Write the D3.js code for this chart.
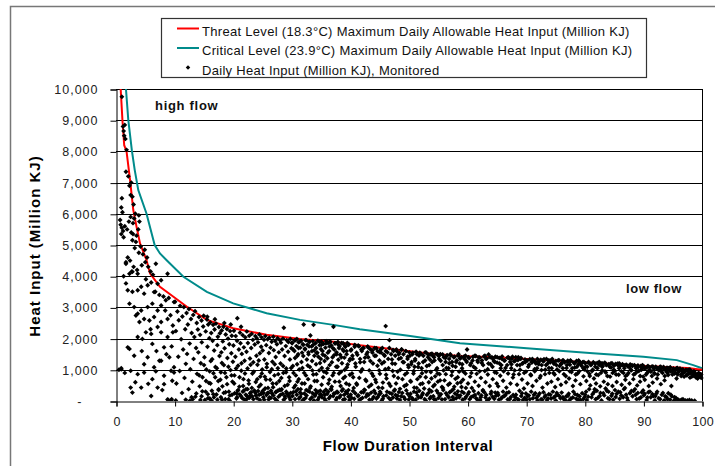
<!DOCTYPE html>
<html>
<head>
<meta charset="utf-8">
<script src="https://cdn.jsdelivr.net/npm/d3@7"></script>
<style>
  body { margin: 0; background: #fff; }
  text { font-family: Arial, "Liberation Sans", sans-serif; }
</style>
</head>
<body>
<div id="canvas"></div>
<script>
// axis ticks
var xTicks = [0, 10, 20, 30, 40, 50, 60, 70, 80, 90, 100];
var yTicks = [0, 1000, 2000, 3000, 4000, 5000, 6000, 7000, 8000, 9000, 10000];

var legendLabels = [
  "Threat Level (18.3°C) Maximum Daily Allowable Heat Input (Million KJ)",
  "Critical Level (23.9°C) Maximum Daily Allowable Heat Input (Million KJ)",
  "Daily Heat Input (Million KJ), Monitored"
];

// threat level curve (18.3°C)
var threatX = [0.8, 1.1, 1.4, 1.8, 2.4, 2.95, 3.5, 4.1, 5.2, 5.8, 7.5, 9.8, 12.1, 15.5, 20, 25.7, 31.4, 37.1, 41.6, 47.3, 53, 58.7, 64.4, 70.1, 75.8, 81.4, 87.1, 92.8, 97.5, 100];
var threatY = [10000, 9000, 8200, 8000, 7080, 6120, 5590, 5050, 4520, 4090, 3660, 3340, 3020, 2600, 2330, 2120, 1990, 1900, 1790, 1660, 1530, 1440, 1400, 1350, 1290, 1230, 1150, 1100, 1060, 1000];

// critical level curve (23.9°C)
var criticalX = [1.7, 2.1, 2.7, 3.2, 3.8, 5.2, 6.6, 7.5, 8.6, 11.5, 15.5, 20, 25.7, 31.4, 37.1, 41.6, 50.2, 58.7, 70.1, 81.4, 90, 95.7, 98.5, 100];
var criticalY = [10000, 9000, 8040, 7400, 6760, 6010, 5000, 4730, 4520, 3980, 3500, 3130, 2810, 2600, 2440, 2300, 2080, 1850, 1690, 1530, 1420, 1310, 1150, 1050];

// monitored daily heat input [flow interval, heat input] - high flows
var monitoredHigh = [
[1.0,9750],[1.2,8800],[1.3,8650],[1.4,8500],[1.5,8850],[1.6,8400],[1.8,8050],[1.7,7350],[2.1,7200],[2.3,6900],[2.5,6600],[1.0,6500],[0.9,6200],[1.1,6050],[0.7,5800],[0.8,5650],[1.0,5550],[1.2,5450],[0.9,5350],[1.3,5250],[1.5,5600],[1.9,5500],[2.2,5750],[2.5,5900],[2.6,5400],[2.9,5700],[3.1,5850],[2.8,5150],[3.4,5100],[3.2,4900],[2.0,4600],[2.4,4500],[1.7,4400],[3.0,4300],[3.6,4200],[2.7,4150],[1.3,4000],[0.5,1000],[0.9,1050],[1.5,900],
[1.7,4450],[2.3,4080],[2.8,4140],[3.7,4080],[1.7,3770],[2.0,3550],[2.8,3500],[3.7,3550],[4.3,3660],[4.8,3440],[5.4,3710],[7.1,3760],[7.7,3870],[8.8,4080],[6.5,3490],[2.3,3120],[3.1,3010],[3.7,2800],[4.3,2900],[5.4,3010],[6.2,3120],[7.1,2900],[7.7,3060],[8.5,3230],[9.9,3170],[3.4,2740],[4.0,2530],[4.8,2630],[5.7,2580],[6.5,2690],[7.7,2530],[8.8,2630],[9.7,2420],[7.1,2370],[3.7,2050],[4.5,1990],[6.0,2150],[7.7,2200],[8.8,2050],[9.7,2200],[6.2,1830],[8.2,1720],[2.0,1720],[2.3,1670],[5.4,1400],[7.4,1290],[4.8,1180],[6.5,1080],[7.7,1290],[9.1,1400],[9.9,1080],[0.9,1020],[2.5,970],[3.7,860],[4.8,910],[6.2,700],[8.2,810],[9.4,970],[9.9,910],[2.5,430],[2.8,270],[4.3,430],[6.0,160],[7.1,430],[8.2,540],[8.8,50],[9.4,20],
[4.2,4950],[4.6,4700],[5.0,4450],[5.5,4300],[5.9,4150],[6.3,4050],[4.9,4850],[5.3,4600],[3.9,4750],[4.4,4350],[6.8,4400],[3.5,5300],[3.8,5500],[4.0,5750],[3.3,6000],[3.0,6300],[2.8,6550],[2.6,7000],[3.9,5950],[2.9,5350],
[5.1,3900],[6.0,3800],[6.7,3500],[7.4,3400],[8.1,3350],[9.0,3300],[8.4,2900],[9.3,2750],[5.9,2300],[5.1,2200],[4.4,1600],[3.1,1450],[6.9,1600],[8.6,1500],[9.5,1750],[3.3,600],[5.5,550],[6.8,950],[7.9,350],[9.6,650]
];

// flow interval 10-40
var monitoredMid = [
[10.07,3180],[10.22,2240],[10.31,560],[10.48,2870],[10.63,1420],[10.71,2590],[10.86,960],[10.94,3050],[11.12,1980],[11.27,260],[11.33,2710],[11.46,1650],[11.58,3010],[11.69,740],[11.81,2300],[11.92,1190],
[12.04,2820],[12.13,1510],[12.26,2450],[12.39,380],[12.44,2950],[12.57,1840],[12.68,1020],[12.79,2630],[12.91,2180],[13.02,620],[13.18,2760],[13.24,1350],[13.37,2050],[13.49,2880],[13.55,140],[13.66,1700],[13.78,2500],[13.83,870],[13.97,2290],
[14.05,1560],[14.16,2690],[14.28,470],[14.35,2120],[14.47,1210],[14.59,2580],[14.64,1880],[14.77,760],[14.88,2390],[14.96,2730],[15.09,1400],[15.18,30],[15.31,2230],[15.42,1010],[15.53,2610],[15.61,1740],[15.74,2450],[15.86,580],[15.93,2010],
[16.08,2520],[16.17,1280],[16.25,2180],[16.36,330],[16.49,1930],[16.58,2440],[16.63,890],[16.75,1620],[16.82,2290],[16.97,1090],[17.06,2480],[17.14,210],[17.29,1790],[17.38,2060],[17.45,640],[17.57,2370],[17.66,1440],[17.73,2170],[17.89,920],[17.98,1560],
[18.03,2260],[18.16,470],[18.22,1910],[18.34,2380],[18.41,1150],[18.53,1690],[18.65,60],[18.72,2130],[18.84,760],[18.93,2310],[19.01,1380],[19.12,2000],[19.26,300],[19.33,1820],[19.47,2240],[19.54,990],[19.68,1530],[19.76,2090],[19.87,620],[19.95,1260],
[8.9,30],[9.5,60],[10.2,20],[11.9,40],[12.6,10],[14.4,30],[16.3,20],[18.1,40],[19.4,10],[15.7,90],[17.3,40],[13.1,60],
[20.04,1780],[20.12,2250],[20.21,820],[20.37,1420],[20.43,2080],[20.58,240],[20.66,1930],[20.71,2650],[20.83,1130],[20.97,1650],[21.05,460],[21.16,2190],[21.24,1850],[21.38,970],[21.47,1510],[21.56,90],[21.63,2110],[21.75,700],[21.82,1720],[21.94,1290],
[22.06,2040],[22.18,380],[22.27,1580],[22.33,2230],[22.45,1040],[22.51,1860],[22.68,550],[22.74,2090],[22.86,1360],[22.93,170],[23.07,1700],[23.15,2150],[23.28,880],[23.36,1960],[23.43,1240],[23.59,320],[23.67,1810],[23.78,2080],[23.85,610],[23.96,1450],
[24.02,2010],[24.14,1160],[24.23,1880],[24.39,460],[24.48,2130],[24.55,1530],[24.61,780],[24.77,1740],[24.84,2040],[24.95,1010],
[25.03,1620],[25.17,260],[25.26,1960],[25.32,1330],[25.48,2080],[25.59,690],[25.64,1790],[25.75,1190],[25.88,1980],[25.94,420],[26.09,1540],[26.16,2030],[26.28,930],[26.37,1710],[26.44,100],[26.57,1900],[26.69,1260],[26.73,560],[26.85,2060],[26.92,1630],
[27.04,820],[27.17,1920],[27.25,1410],[27.33,300],[27.46,1820],[27.58,2010],[27.62,1050],[27.79,1560],[27.86,640],[27.97,1950],[28.08,1200],[28.14,1870],[28.27,380],[28.35,1650],[28.49,2000],[28.56,900],[28.64,2350],[28.77,1440],[28.83,150],[28.98,1760],
[29.06,1040],[29.13,1950],[29.29,520],[29.37,1580],[29.42,1890],[29.55,760],[29.68,1330],[29.74,1990],[29.81,260],[29.93,1690],
[30.02,1870],[30.18,1120],[30.24,1650],[30.36,430],[30.47,1940],[30.55,1380],[30.69,820],[30.78,1760],[30.86,1990],[30.97,620],[31.08,1500],[31.16,1880],[31.27,1010],[31.39,270],[31.44,1710],[31.58,1930],[31.65,1250],[31.73,560],[31.89,1820],[31.96,1440],
[32.03,2450],[32.11,900],[32.25,1680],[32.34,1950],[32.46,350],[32.57,1330],[32.63,1800],[32.78,700],[32.84,1560],[32.95,1900],[33.09,1090],[33.17,2100],[33.22,470],[33.38,1750],[33.46,1280],[33.59,1920],[33.66,850],[33.71,2440],[33.83,1620],[33.97,200],
[34.05,1850],[34.14,1180],[34.26,1540],[34.31,640],[34.45,1930],[34.53,1420],[34.67,980],[34.74,1790],[34.86,330],[34.98,1660],
[35.06,1900],[35.12,1060],[35.27,1490],[35.35,760],[35.41,1830],[35.59,1280],[35.63,190],[35.74,1710],[35.88,1920],[35.93,900],[36.07,1370],[36.19,1860],[36.24,560],[36.38,1600],[36.46,1150],[36.52,1900],[36.67,390],[36.75,1780],[36.84,1240],[36.96,820],
[37.03,1690],[37.11,2380],[37.22,1470],[37.36,620],[37.43,1850],[37.58,1100],[37.64,1560],[37.72,300],[37.87,1890],[37.94,1320],[38.06,880],[38.17,1760],[38.25,1480],[38.33,480],[38.49,1860],[38.56,1210],[38.68,1650],[38.79,730],[38.82,1830],[38.97,1390],
[39.04,1000],[39.13,1740],[39.28,560],[39.35,1600],[39.47,1860],[39.53,1170],[39.66,350],[39.72,1810],[39.85,1300],[39.91,840]
];

// extra days filling the lower part of the 12-60 cloud
var monitoredExtra = [
[14.21,820],[14.73,310],[15.02,1150],[15.36,640],[15.67,220],[15.98,950],[16.12,560],[16.41,1340],[16.71,120],[16.93,760],[17.21,1050],[17.52,380],[17.81,680],[18.07,1220],[18.38,260],[18.59,900],[18.96,540],[19.18,1100],[19.42,180],[19.71,820],
[20.16,560],[20.49,1040],[20.77,330],[21.08,760],[21.42,1210],[21.69,480],[22.01,880],[22.39,150],[22.62,660],[22.97,1160],[23.18,420],[23.52,940],[23.81,260],[24.11,700],[24.36,1300],[24.69,520],[24.88,880],[25.11,340],[25.39,780],[25.72,1080],
[26.02,260],[26.31,680],[26.58,1020],[26.81,440],[27.09,1180],[27.38,560],[27.69,860],[27.91,360],[28.21,740],[28.52,1120],[28.79,480],[29.02,920],[29.33,220],[29.62,640],[29.89,1060],
[30.29,900],[30.61,500],[30.91,1180],[31.19,700],[31.52,380],[31.81,1060],[32.19,560],[32.41,820],[32.72,1140],[33.12,420],[33.51,980],[33.88,640],[34.19,860],[34.49,300],[34.81,1220],[35.09,520],[35.49,940],[35.81,360],[36.11,1040],[36.41,680],[36.81,460],[37.16,900],[37.49,260],[37.81,1100],[38.11,620],[38.41,940],[38.71,380],[39.09,780],[39.41,1080],[39.79,520],
[15.58,2700],[16.88,2620],[18.48,2500],[21.34,2380],[19.58,2450],
[40.48,760],[41.11,520],[41.79,940],[42.57,680],[43.17,460],[43.66,880],[44.38,600],[44.91,980],[45.46,420],[46.09,840],[46.58,560],[47.21,960],[47.58,360],[48.14,740],[48.53,1000],[49.21,480],[49.66,900],[50.32,620],[50.81,960],[51.33,420],[51.87,780],[52.31,560],[52.92,940],[53.46,360],[53.83,720],[54.38,520],[54.88,880],[55.31,660],[55.79,420],[56.28,860],[56.96,560],[57.37,940],[57.72,460],[58.31,760],[58.84,600],[59.28,940],[59.71,420],
[14.6,150],[15.3,300],[16.0,80],[16.6,220],[17.5,350],[17.9,120],[18.7,280],[19.2,60],[19.8,200],[13.7,240],[12.9,120]
];

// flow interval 40-100
var monitoredLow = [
[40.08,1620],[40.27,880],[40.39,1350],[40.56,420],[40.73,1740],[40.91,1100],
[41.04,560],[41.19,1480],[41.34,1780],[41.52,740],[41.66,1240],[41.87,1650],
[42.02,1020],[42.18,1700],[42.37,360],[42.49,1390],[42.71,640],[42.93,1560],
[43.06,1710],[43.22,980],[43.41,1280],[43.57,520],[43.76,1620],[43.89,800],
[44.11,1450],[44.26,680],[44.43,1690],[44.62,1130],[44.78,430],[44.96,1570],
[45.03,870],[45.21,1660],[45.38,1200],[45.55,590],[45.72,1480],[45.94,1020],
[46.02,2400],[46.16,720],[46.33,1560],[46.51,1050],[46.67,1950],[46.84,480],
[47.09,1330],[47.27,1640],[47.41,800],[47.63,1190],[47.79,560],[47.92,1600],
[48.05,940],[48.23,1500],[48.46,390],[48.61,1380],[48.72,1650],[48.88,700],
[49.12,1240],[49.31,850],[49.44,1600],[49.58,520],[49.77,1420],[49.93,1080],
[50.06,1560],[50.24,640],[50.39,1180],[50.58,1500],[50.76,880],[50.89,430],
[51.03,1300],[51.21,1580],[51.42,700],[51.56,1090],[51.71,1460],[51.94,540],
[52.08,1510],[52.22,890],[52.41,1250],[52.59,400],[52.77,1560],[52.86,760],
[53.04,1120],[53.29,1480],[53.38,600],[53.57,1330],[53.72,930],[53.91,1520],
[54.13,470],[54.28,1400],[54.46,790],[54.61,1510],[54.79,1050],[54.92,620],
[55.07,1440],[55.23,860],[55.41,1290],[55.62,450],[55.73,1490],[55.89,980],
[56.05,660],[56.21,1380],[56.38,1060],[56.52,1470],[56.69,520],[56.87,1210],
[57.12,1460],[57.26,820],[57.44,1130],[57.59,380],[57.78,1420],[57.93,710],
[58.04,1250],[58.27,570],[58.39,1450],[58.56,940],[58.71,1360],[58.96,450],
[59.08,1180],[59.22,680],[59.41,1430],[59.63,880],[59.77,1290],[59.91,1650],
[60.07,560],[60.26,1380],[60.44,780],[60.58,1210],[60.72,420],[60.93,1420],
[61.02,1100],[61.24,620],[61.39,1440],[61.55,870],[61.68,1300],[61.89,490],
[62.09,1390],[62.27,740],[62.42,1220],[62.61,350],[62.78,1430],[62.94,960],
[63.06,600],[63.25,1360],[63.43,1020],[63.58,1490],[63.77,480],[63.92,1180],
[64.14,1400],[64.29,700],[64.47,1280],[64.63,920],[64.74,1420],[64.97,560],
[65.04,1230],[65.22,470],[65.41,1380],[65.57,810],[65.76,1150],[65.89,1430],
[66.06,650],[66.23,1300],[66.47,1060],[66.62,430],[66.79,1390],[66.91,880],
[67.13,1360],[67.32,560],[67.48,1180],[67.66,1420],[67.73,750],[67.94,1270],
[68.03,980],[68.22,1400],[68.44,520],[68.59,1310],[68.77,860],[68.92,1150],
[69.11,1380],[69.28,690],[69.46,1220],[69.61,400],[69.79,1330],[69.96,940],
[70.04,1290],[70.23,560],[70.47,1160],[70.62,1340],[70.81,820],[70.97,1230],
[71.08,480],[71.26,1310],[71.43,1020],[71.58,1260],[71.74,650],[71.91,1350],
[72.13,1180],[72.32,740],[72.49,1320],[72.61,990],[72.78,430],[72.96,1270],
[73.04,1340],[73.21,860],[73.39,1150],[73.62,560],[73.77,1300],[73.88,1060],
[74.12,1240],[74.29,620],[74.44,1350],[74.66,900],[74.73,1190],[74.94,450],
[75.06,1280],[75.27,1010],[75.42,700],[75.59,1310],[75.71,1120],[75.93,520],
[76.04,1190],[76.21,1300],[76.43,860],[76.57,1240],[76.79,600],[76.88,1060],
[77.09,1290],[77.31,720],[77.46,1160],[77.62,1280],[77.74,930],[77.97,480],
[78.12,1230],[78.28,1070],[78.41,660],[78.59,1280],[78.76,880],[78.93,1180],
[79.06,1260],[79.24,540],[79.43,1130],[79.61,1240],[79.78,790],[79.92,1010],
[80.08,1210],[80.26,640],[80.42,1100],[80.61,1230],[80.79,870],[80.94,500],
[81.07,1180],[81.23,960],[81.45,1240],[81.56,720],[81.79,1100],[81.92,560],
[82.11,1220],[82.29,830],[82.46,1150],[82.63,470],[82.81,1200],[82.97,980],
[83.03,1110],[83.24,620],[83.42,1230],[83.58,910],[83.76,1160],[83.93,540],
[84.09,1180],[84.31,780],[84.47,1070],[84.64,1210],[84.72,480],[84.96,1130],
[85.12,960],[85.27,1190],[85.44,610],[85.62,1150],[85.78,840],[85.91,1200],
[86.04,1120],[86.28,520],[86.43,1180],[86.59,900],[86.77,1140],[86.92,680],
[87.06,1160],[87.25,840],[87.41,1100],[87.63,560],[87.74,1170],[87.95,980],
[88.13,1120],[88.28,700],[88.46,1150],[88.61,880],[88.79,1090],[88.94,500],
[89.07,1140],[89.21,960],[89.43,620],[89.58,1120],[89.74,1050],[89.96,780],
[90.09,1100],[90.24,680],[90.41,1060],[90.63,900],[90.78,1120],[90.92,480],
[91.06,1080],[91.27,940],[91.48,1110],[91.59,590],[91.76,1030],[91.93,870],
[92.11,1100],[92.33,720],[92.47,1060],[92.64,980],[92.82,1090],[92.97,540],
[93.08,1040],[93.26,900],[93.44,1090],[93.61,660],[93.73,1010],[93.95,940],
[94.03,1070],[94.22,830],[94.45,1000],[94.58,1080],[94.77,480],[94.91,960],
[95.12,1040],[95.29,880],[95.43,990],[95.66,720],[95.79,1060],[95.94,920],
[96.07,980],[96.24,1040],[96.48,860],[96.63,950],[96.76,1010],[96.95,780],
[97.04,940],[97.27,1000],[97.39,820],[97.61,960],[97.78,880],[97.92,1010],
[98.06,900],[98.22,780],[98.47,950],[98.58,840],[98.79,890],[98.94,760],
[99.11,840],[99.26,720],[99.38,880],[99.57,790],[99.72,860],[99.88,740]
];

// dense band of days sitting just under the threat curve
var monitoredBand = [
[30.05,1850],[30.45,1600],[30.65,1950],[30.95,1450],[31.15,1700],[31.35,1900],[31.75,1550],[31.95,1800],
[32.25,1650],[32.45,1950],[32.85,1500],[32.95,1750],[33.05,1900],[33.45,1600],[33.65,1800],[33.85,1450],
[34.15,1700],[34.35,1550],[34.75,1900],[34.95,1350],[35.05,1800],[35.25,1600],[35.65,1450],[35.85,1850],
[36.15,1550],[36.45,1750],[36.55,1900],[36.95,1400],[37.25,1650],[37.35,1850],[37.65,1500],[37.95,1800],
[38.05,1700],[38.45,1400],[38.75,1850],[38.85,1600],[39.15,1750],[39.35,1500],[39.65,1800],[39.95,1350],
[40.15,1650],[40.35,1450],[40.75,1800],[40.85,1200],[41.05,1550],[41.45,1750],[41.65,1350],[41.95,1600],
[42.25,1700],[42.35,1250],[42.75,1500],[42.95,1750],[43.05,1400],[43.45,1650],[43.75,1550],[43.85,1200],
[44.15,1700],[44.35,1450],[44.65,1600],[44.95,1300],[45.25,1550],[45.45,1700],[45.75,1250],[45.85,1450],
[46.05,1600],[46.45,1350],[46.65,1700],[46.95,1500],[47.15,1200],[47.35,1600],[47.65,1450],[47.85,1650],
[48.25,1350],[48.35,1550],[48.75,1650],[48.95,1250],[49.05,1500],[49.45,1600],[49.75,1350],[49.85,1150],
[50.15,1450],[50.45,1250],[50.65,1550],[50.95,1100],[51.05,1350],[51.35,1500],[51.65,1200],[51.85,1550],
[52.15,1050],[52.45,1450],[52.75,1300],[52.95,1550],[53.25,1400],[53.45,1150],[53.65,1500],[53.95,1250],
[54.05,1450],[54.35,1300],[54.65,1000],[54.85,1500],[55.15,1350],[55.35,1500],[55.75,1150],[55.95,1400],
[56.25,1250],[56.45,1450],[56.75,1050],[56.85,1350],[57.05,1500],[57.35,1250],[57.65,1400],[57.95,1100],
[58.15,1300],[58.45,1500],[58.65,1200],[58.95,1400],[59.05,1050],[59.45,1350],[59.65,1450],[59.85,1250],
[60.15,1400],[60.45,1150],[60.65,900],[60.85,1300],[61.25,1450],[61.35,1050],[61.75,1250],[61.95,1400],
[62.05,950],[62.45,1300],[62.65,1150],[62.95,1450],[63.15,1350],[63.45,850],[63.55,1200],[63.85,1400],
[64.25,1100],[64.35,1350],[64.65,1250],[64.95,900],[65.05,1400],[65.45,1200],[65.65,1050],[65.85,1350],
[66.15,950],[66.35,1300],[66.75,1150],[66.95,1400],[67.25,1250],[67.45,1050],[67.55,1350],[67.85,850],
[68.15,1300],[68.45,1150],[68.65,1400],[68.95,1000],[69.05,1350],[69.35,1200],[69.65,900],[69.85,1250],
[70.15,1300],[70.35,1100],[70.75,850],[70.95,1250],[71.05,1350],[71.45,950],[71.65,1200],[71.85,1050],
[72.15,1250],[72.45,800],[72.65,1150],[72.85,1300],[73.25,1000],[73.45,1350],[73.65,1200],[73.95,900],
[74.05,1300],[74.35,1050],[74.65,1250],[74.85,850],[75.15,1150],[75.45,1300],[75.65,950],[75.95,1200],
[76.25,1050],[76.35,1300],[76.75,800],[76.95,1150],[77.15,1250],[77.45,950],[77.55,1300],[77.85,1050],
[78.25,1200],[78.45,850],[78.65,1100],[78.95,1300],[79.05,950],[79.35,1200],[79.75,1050],[79.85,1250],
[80.15,1100],[80.45,950],[80.65,1250],[80.85,800],[81.05,1150],[81.35,1000],[81.75,1200],[81.95,850],
[82.15,1050],[82.45,1250],[82.75,900],[82.95,1100],[83.05,1200],[83.45,950],[83.65,1150],[83.85,800],
[84.25,1100],[84.45,1200],[84.75,900],[84.95,1000],[85.05,1150],[85.35,850],[85.65,1200],[85.85,1050],
[86.25,950],[86.45,1150],[86.75,1050],[86.95,800],[87.15,1150],[87.45,900],[87.65,1100],[87.85,1000],
[88.05,1150],[88.35,850],[88.75,1050],[88.95,950],[89.15,1100],[89.45,800],[89.65,1000],[89.85,1150],
[90.15,1050],[90.45,850],[90.65,1100],[90.85,950],[91.05,1000],[91.45,800],[91.65,1100],[91.85,900],
[92.25,1050],[92.45,850],[92.75,1000],[92.95,1100],[93.05,950],[93.45,1050],[93.65,800],[93.85,1000],
[94.15,900],[94.35,1050],[94.65,950],[94.95,850],[95.15,1000],[95.45,900],[95.65,1050],[95.85,850],
[96.05,950],[96.45,800],[96.65,1000],[96.85,900],[97.15,950],[97.45,850],[97.65,1000],[97.95,750],
[98.15,900],[98.45,800],[98.65,950],[98.95,850],[99.15,750],[99.45,900],[99.65,800],[99.85,850]
];

// dense band of near-zero days
var monitoredBottom = [
[20.25,250],[20.55,80],[20.85,350],[21.35,150],[21.65,300],[21.95,40],[22.15,200],[22.45,380],[22.75,100],[23.05,280],[23.45,60],[23.85,180],[24.25,320],[24.55,30],[24.75,220],[25.15,120],[25.45,400],[25.85,260],[26.05,50],[26.45,330],[26.85,180],[27.25,280],[27.45,20],[27.75,140],[28.15,350],[28.45,230],[28.85,90],[29.05,300],[29.45,170],[29.75,40],
[30.25,280],[30.55,60],[30.85,200],[31.05,380],[31.45,130],[31.85,20],[32.15,240],[32.35,100],[32.75,330],[33.15,60],[33.55,250],[33.95,170],[34.05,350],[34.45,40],[34.85,210],[35.15,120],[35.45,290],[35.75,20],[36.05,230],[36.35,90],[36.75,360],[37.05,160],[37.55,40],[37.85,270],[38.15,120],[38.55,330],[38.95,200],[39.05,60],[39.45,250],[39.85,30],
[40.05,200],[40.45,320],[40.65,70],[41.25,160],[41.55,30],[41.85,280],[42.05,100],[42.45,350],[42.85,220],[43.25,40],[43.55,270],[43.95,130],[44.05,330],[44.45,80],[44.85,190],[45.15,250],[45.35,20],[45.65,150],[46.25,300],[46.55,100],[46.85,40],[47.05,230],[47.45,330],[47.95,80],[48.05,170],[48.45,30],[48.85,260],[49.15,120],[49.55,340],[49.95,50],
[50.25,230],[50.55,90],[50.85,300],[51.15,40],[51.45,180],[51.75,330],[52.05,120],[52.35,250],[52.85,20],[53.05,200],[53.55,80],[53.85,310],[54.15,150],[54.55,40],[54.95,260],[55.05,100],[55.45,220],[55.85,350],[56.15,60],[56.55,180],[56.95,280],[57.15,20],[57.45,130],[57.85,240],[58.05,90],[58.35,310],[58.75,180],[59.15,40],[59.35,260],[59.75,140],
[60.05,220],[60.35,60],[60.95,150],[61.05,320],[61.45,90],[61.85,250],[62.15,30],[62.35,180],[62.85,280],[63.05,110],[63.35,20],[63.95,230],[64.05,300],[64.55,70],[64.85,170],[65.15,260],[65.35,40],[65.95,130],[66.05,300],[66.45,190],[66.85,50],[67.05,280],[67.35,120],[67.95,20],[68.25,200],[68.55,60],[68.85,330],[69.15,160],[69.45,30],[69.95,240],
[70.05,40],[70.45,180],[70.85,300],[71.15,90],[71.55,250],[71.95,20],[72.05,170],[72.55,60],[72.95,280],[73.15,130],[73.55,30],[73.85,220],[74.25,80],[74.55,300],[74.95,150],[75.05,20],[75.35,200],[75.85,90],[76.05,270],[76.45,50],[76.85,150],[77.25,230],[77.35,20],[77.95,110],[78.05,300],[78.55,70],[78.75,190],[79.25,30],[79.55,250],[79.95,120],
[80.05,200],[80.35,30],[80.75,380],[81.15,120],[81.55,280],[81.85,60],[82.05,330],[82.55,160],[82.85,20],[83.15,250],[83.55,400],[83.95,90],[84.05,300],[84.55,170],[84.85,40],[85.15,350],[85.45,230],[85.95,70],[86.05,280],[86.55,120],[86.85,420],[87.05,200],[87.35,20],[87.95,320],[88.15,150],[88.55,380],[88.85,60],[89.05,260],[89.55,110],[89.95,340],
[90.05,180],[90.55,30],[90.85,280],[91.25,120],[91.55,220],[91.95,20],[92.05,160],[92.35,300],[92.85,60],[93.15,200],[93.55,20],[93.95,120],[94.25,250],[94.55,40],[94.85,150],[95.25,20],[95.55,100],[95.95,40],[96.25,20],[96.75,60],[97.15,20],[97.85,30],[98.25,20],[98.75,10],
[20.67,120],[21.13,210],[21.79,330],[22.31,60],[22.88,250],[23.22,150],[23.64,330],[24.08,90],[24.43,200],[24.92,280],[25.29,40],[25.67,190],[26.18,110],[26.63,240],[27.11,70],[27.62,330],[28.03,190],[28.62,40],[29.18,250],[29.61,110],
[30.12,160],[30.71,310],[31.22,80],[31.64,230],[32.06,50],[32.52,180],[33.02,300],[33.41,110],[33.78,20],[34.23,260],[34.66,120],[35.03,200],[35.58,70],[36.22,300],[36.59,150],[37.19,240],[37.71,100],[38.33,180],[38.77,40],[39.22,300],[39.67,140],
[40.22,100],[40.83,250],[41.37,180],[41.72,60],[42.22,280],[42.67,140],[43.11,200],[43.72,60],[44.27,250],[44.68,130],[45.06,300],[45.53,70],[46.12,180],[46.71,260],[47.26,110],[47.71,190],[48.28,290],[48.67,150],[49.32,60],[49.76,230],
[50.12,150],[50.68,40],[51.28,270],[51.63,110],[52.24,190],[52.68,60],[53.33,260],[53.71,130],[54.26,60],[54.73,330],[55.24,170],[55.62,50],[56.32,250],[56.76,120],[57.28,330],[57.64,60],[58.22,200],[58.58,120],[59.03,300],[59.56,80],
[60.22,280],[60.62,130],[61.26,190],[61.68,40],[62.24,120],[62.62,320],[63.18,190],[63.71,70],[64.26,140],[64.72,270],[65.24,190],[65.72,80],[66.27,160],[66.68,260],[67.18,60],[67.77,190],[68.13,120],[68.71,40],[69.28,250],[69.72,100],
[70.22,150],[70.62,60],[71.32,200],[71.74,100],[72.28,240],[72.74,40],[73.31,180],[73.72,80],[74.12,200],[74.72,110],[75.22,260],[75.66,160],[76.27,120],[76.66,30],[77.13,170],[77.62,80],[78.34,220],[78.88,40],[79.11,150],[79.72,60],
[80.22,300],[80.58,140],[81.32,220],[81.68,380],[82.22,100],[82.68,260],[83.32,180],[83.76,330],[84.22,60],[84.68,230],[85.28,130],[85.72,300],[86.22,180],[86.68,380],[87.22,100],[87.68,250],[88.32,320],[88.68,200],[89.28,80],[89.72,280],
[90.22,230],[90.68,110],[91.12,300],[91.72,160],[92.22,240],[92.62,90],[93.33,260],[93.72,150],[94.12,60],[94.68,200],[95.32,120],[95.72,60],[96.5,40],[97.5,20]
];

var svg = d3.select("#canvas").append("svg")
  .attr("width", 715)
  .attr("height", 466);

var x = d3.scaleLinear().domain([0, 100]).range([116, 702]);
var y = d3.scaleLinear().domain([0, 10000]).range([401, 89]);

// outer chart frame (top + left edges visible)
svg.append("path")
  .attr("d", "M10.5,470 V6.5 H720")
  .attr("fill", "none")
  .attr("stroke", "#777")
  .attr("stroke-width", 1.5);

// gridlines
svg.append("g").selectAll("line")
  .data(yTicks.filter(function(d) { return d > 0; }))
  .enter().append("line")
  .attr("x1", x(0)).attr("x2", x(100))
  .attr("y1", function(d) { return Math.round(y(d)) + 0.5; })
  .attr("y2", function(d) { return Math.round(y(d)) + 0.5; })
  .attr("stroke", "#000")
  .attr("stroke-width", 1);

// right border of plot area
svg.append("line")
  .attr("x1", x(100) + 0.5).attr("x2", x(100) + 0.5)
  .attr("y1", y(10000)).attr("y2", y(0))
  .attr("stroke", "#000");

// y axis
var yAxis = svg.append("g")
  .attr("transform", "translate(" + (x(0) + 0.5) + ",0.5)")
  .call(d3.axisLeft(y).tickValues(yTicks).tickSize(6).tickPadding(12)
    .tickFormat(function(d) { return d === 0 ? "-" : d3.format(",")(d); }));
yAxis.select(".domain").attr("stroke", "#000");
yAxis.selectAll("line").attr("stroke", "#000");
yAxis.selectAll("text")
  .attr("font-size", "12.5px")
  .attr("letter-spacing", "1px")
  .attr("font-family", "Arial, 'Liberation Sans', sans-serif")
  .attr("fill", "#222");
yAxis.selectAll(".tick").filter(function(d) { return d === 0; })
  .select("text").attr("x", -34);

// x axis
var xAxis = svg.append("g")
  .attr("transform", "translate(0.5," + (y(0) + 0.5) + ")")
  .call(d3.axisBottom(x).tickValues(xTicks).tickSize(5).tickPadding(11));
xAxis.select(".domain").attr("stroke", "#000");
xAxis.selectAll("line").attr("stroke", "#000");
xAxis.selectAll("text")
  .attr("font-size", "12.5px")
  .attr("letter-spacing", "0.3px")
  .attr("font-family", "Arial, 'Liberation Sans', sans-serif")
  .attr("fill", "#222");

// clip to plot area
svg.append("clipPath").attr("id", "plotClip")
  .append("rect")
  .attr("x", x(0)).attr("y", y(10000) - 1)
  .attr("width", x(100) - x(0) + 3).attr("height", y(0) - y(10000) + 1);

var plot = svg.append("g").attr("clip-path", "url(#plotClip)");

var line = d3.line()
  .x(function(d) { return x(d[0]); })
  .y(function(d) { return y(d[1]); });

plot.append("path")
  .datum(criticalX.map(function(v, i) { return [v, criticalY[i]]; }))
  .attr("d", line)
  .attr("fill", "none")
  .attr("stroke", "#008b8b")
  .attr("stroke-width", 2);

plot.append("path")
  .datum(threatX.map(function(v, i) { return [v, threatY[i]]; }))
  .attr("d", line)
  .attr("fill", "none")
  .attr("stroke", "#ff0000")
  .attr("stroke-width", 2);

// monitored points, drawn last like the spreadsheet series order
var monitored = monitoredHigh.concat(monitoredMid, monitoredExtra, monitoredLow, monitoredBand, monitoredBottom);
var marker = d3.symbol().type(d3.symbolSquare).size(12);
plot.append("g").selectAll("path")
  .data(monitored)
  .enter().append("path")
  .attr("d", marker)
  .attr("transform", function(d) {
    return "translate(" + x(d[0]) + "," + y(d[1]) + ") rotate(45)";
  })
  .attr("fill", "#000");

// annotations
svg.append("text")
  .attr("x", 155).attr("y", 110)
  .attr("font-size", "13px").attr("font-weight", "bold")
  .attr("letter-spacing", "0.7px")
  .attr("fill", "#111")
  .text("high flow");

svg.append("text")
  .attr("x", 626).attr("y", 293)
  .attr("font-size", "13px").attr("font-weight", "bold")
  .attr("letter-spacing", "0.6px")
  .attr("fill", "#111")
  .text("low flow");

// axis titles
svg.append("text")
  .attr("x", 408).attr("y", 451)
  .attr("text-anchor", "middle")
  .attr("font-size", "15px").attr("font-weight", "bold")
  .attr("letter-spacing", "0.6px")
  .text("Flow Duration Interval");

svg.append("text")
  .attr("transform", "translate(40,246) rotate(-90)")
  .attr("text-anchor", "middle")
  .attr("font-size", "15px").attr("font-weight", "bold")
  .attr("letter-spacing", "1px")
  .text("Heat Input (Million KJ)");

// legend
var legend = svg.append("g");
legend.append("rect")
  .attr("x", 161.5).attr("y", 18.5)
  .attr("width", 485).attr("height", 59)
  .attr("fill", "#fff")
  .attr("stroke", "#333")
  .attr("stroke-width", 1.2);

var legendRows = [28.5, 48, 67.5];
legend.append("line")
  .attr("x1", 177).attr("x2", 199)
  .attr("y1", legendRows[0]).attr("y2", legendRows[0])
  .attr("stroke", "#ff0000").attr("stroke-width", 2);
legend.append("line")
  .attr("x1", 177).attr("x2", 199)
  .attr("y1", legendRows[1]).attr("y2", legendRows[1])
  .attr("stroke", "#008b8b").attr("stroke-width", 2);
legend.append("path")
  .attr("d", d3.symbol().type(d3.symbolSquare).size(10))
  .attr("transform", "translate(188," + legendRows[2] + ") rotate(45)")
  .attr("fill", "#000");

legend.selectAll("text.lg")
  .data(legendLabels)
  .enter().append("text")
  .attr("class", "lg")
  .attr("x", 202)
  .attr("y", function(d, i) { return legendRows[i] + 7; })
  .attr("font-size", "13px")
  .attr("letter-spacing", "0.3px")
  .attr("fill", "#111")
  .text(function(d) { return d; });
</script>
</body>
</html>
